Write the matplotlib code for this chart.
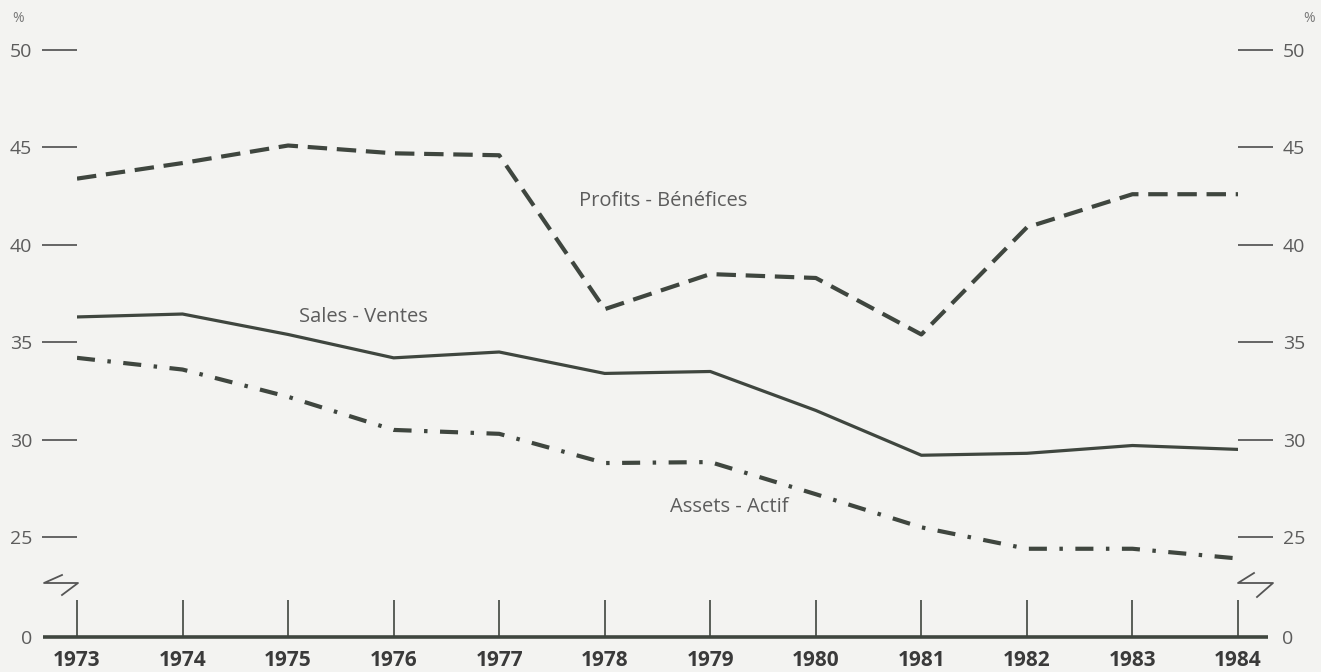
import numpy as np
import matplotlib
matplotlib.use("Agg")
import matplotlib.pyplot as plt

plt.rcParams['font.family'] = ['Open Sans', 'DejaVu Sans']
plt.rcParams['lines.scale_dashes'] = False

years = np.arange(1973, 1985)
profits = [43.4, 44.2, 45.1, 44.7, 44.6, 36.7, 38.5, 38.3, 35.4, 40.9, 42.6, 42.6]
sales = [36.3, 36.45, 35.4, 34.2, 34.5, 33.4, 33.5, 31.5, 29.2, 29.3, 29.7, 29.5]
assets = [34.2, 33.6, 32.2, 30.5, 30.3, 28.8, 28.85, 27.2, 25.5, 24.4, 24.4, 23.9]

y_ticks = [25, 30, 35, 40, 45, 50]
y_zero = 19.87   # where the broken axis puts "0"

W, H = 1321, 672
line_c = '#3f463f'
text_c = '#5c5c5c'
bg = '#f3f3f1'

fig = plt.figure(figsize=(W / 100, H / 100), dpi=100, facecolor=bg)
ax = fig.add_axes([77 / W, 35 / H, (1238 - 77) / W, 637 / H])
ax.set_facecolor('none')
ax.set_xlim(1973, 1984)
ax.set_ylim(y_zero, 52.57)

ax.plot(years, sales, color=line_c, lw=2.3, solid_joinstyle='round')
ax.plot(years, profits, color=line_c, lw=3.0, dashes=(14, 7), dash_capstyle='butt')
ax.plot(years, assets, color=line_c, lw=3.0, dashes=(13, 9, 2.5, 9), dash_capstyle='butt')

lab = dict(color=text_c, fontsize=14.5, ha='center', va='center')
ax.text(1978.55, 42.25, 'Profits - Bénéfices', **lab)
ax.text(1975.71, 36.29, 'Sales - Ventes', **lab)
ax.text(1979.18, 26.54, 'Assets - Actif', **lab)

for s in ax.spines.values():
    s.set_visible(False)

ax.set_xticks(years)
ax.set_xticklabels([str(y) for y in years], fontweight='bold', color='#3a3a3a', fontsize=15)
ax.tick_params(axis='x', direction='in', length=26.6, width=1.2, color=line_c, pad=9)

ax.set_yticks(y_ticks)
ax.set_yticklabels([str(v) for v in y_ticks])
ax.set_yticks([y_zero], labels=['0'], minor=True)
ax.tick_params(axis='y', which='major', direction='out', length=25.2, width=1.3,
               color='#5a5a5a', labelcolor=text_c, labelsize=14, pad=7,
               left=True, right=True, labelleft=True, labelright=True)
ax.tick_params(axis='y', which='minor', length=0, labelcolor=text_c, labelsize=14,
               pad=32, left=True, right=True, labelleft=True, labelright=True)

# baseline, extends past the outer year ticks
ax.plot([-0.0293, 1.0258], [0, 0], transform=ax.transAxes, color=line_c,
        lw=2.6, clip_on=False, solid_capstyle='butt')

# axis-break marks
def brk(pts):
    xs = [p[0] / W for p in pts]
    ys = [1 - p[1] / H for p in pts]
    fig.add_artist(plt.Line2D(xs, ys, transform=fig.transFigure, color='#555555', lw=1.3))

brk([(62, 575), (44, 583), (78, 583), (62, 595)])
brk([(1254, 573), (1238, 583), (1273, 583), (1257, 597)])

fig.text(12 / W, 1 - 18 / H, '%', color='#777777', fontsize=10, ha='left', va='center')
fig.text(1303 / W, 1 - 18 / H, '%', color='#777777', fontsize=10, ha='left', va='center')

fig.savefig('out.png', dpi=100, facecolor=bg)
